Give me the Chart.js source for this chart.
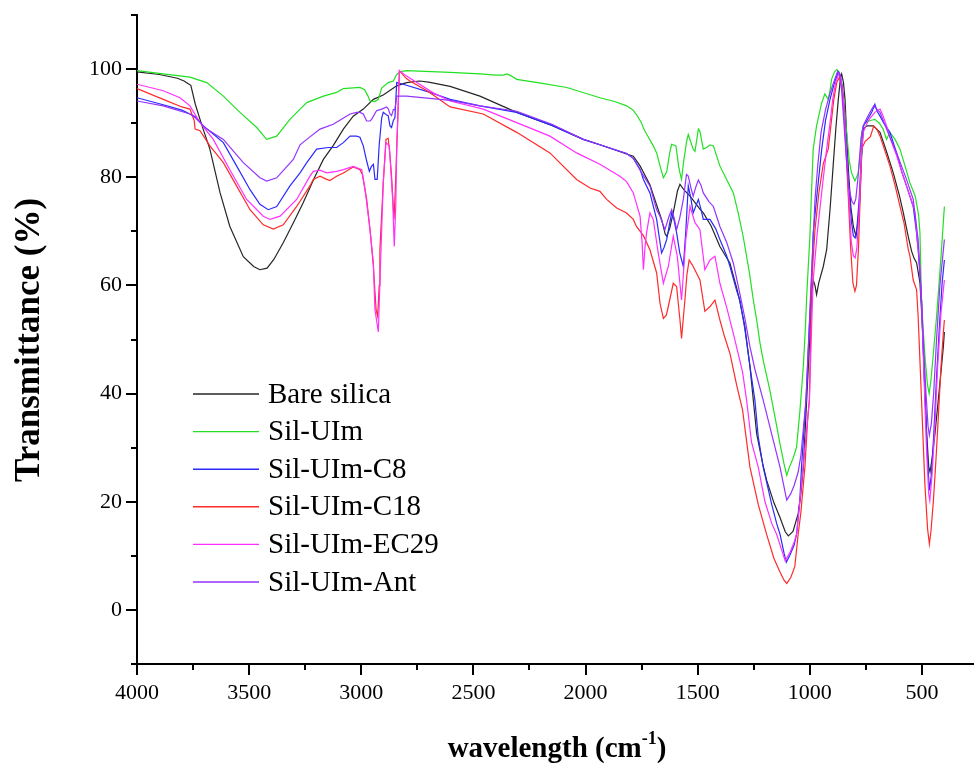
<!DOCTYPE html>
<html>
<head>
<meta charset="utf-8">
<script src="https://cdn.jsdelivr.net/npm/chart.js@4.4.1/dist/chart.umd.min.js"></script>
<style>
  html, body { margin: 0; padding: 0; background: #fff; }
  #wrap { width: 974px; height: 769px; position: relative; }
</style>
</head>
<body>
<div id="wrap"><canvas id="ftir" width="974" height="769"></canvas></div>
<script>
// ─── FTIR spectra of the modified silicas ───────────────────────────────────
// wavenumber (cm-1) / transmittance (%) pairs, one pair of arrays per sample.

const X_MIN = 268;
const X_MAX = 4000;
const Y_MIN = -10;
const Y_MAX = 110;
const X_TICKS = [500, 1000, 1500, 2000, 2500, 3000, 3500, 4000];
const X_MINOR = [750, 1250, 1750, 2250, 2750, 3250, 3750];
const Y_TICKS = [0, 20, 40, 60, 80, 100];
const Y_MINOR = [-10, 10, 30, 50, 70, 90, 110];

const SAMPLE_NAMES = ['Bare silica', 'Sil-UIm', 'Sil-UIm-C8', 'Sil-UIm-C18', 'Sil-UIm-EC29', 'Sil-UIm-Ant'];

const bareWn = [4000, 3900, 3820, 3790, 3775, 3760, 3740, 3710, 3675, 3630, 3586, 3526, 3480, 3452, 3420, 3390, 3348, 3300, 3259, 3210, 3169, 3126, 3080, 3036, 2991, 2946, 2902, 2842, 2798, 2740, 2700, 2604, 2471, 2307, 2150, 2010, 1936, 1817, 1787, 1757, 1713, 1680, 1661, 1645, 1638, 1625, 1609, 1590, 1579, 1560, 1534, 1490, 1475, 1440, 1401, 1356, 1326, 1312, 1290, 1267, 1237, 1210, 1192, 1160, 1133, 1110, 1096, 1075, 1052, 1040, 1029, 1014, 999, 992, 985, 977, 970, 960, 940, 925, 910, 896, 884, 873, 863, 858, 850, 843, 836, 829, 817, 806, 794, 785, 777, 770, 762, 745, 717, 687, 660, 628, 600, 583, 560, 546, 535, 524, 515, 509, 500, 494, 479, 470, 464, 455, 442, 420, 405, 400];
const bareT  = [99.5, 99.0, 98.3, 97.8, 97.4, 97.0, 93.5, 89.5, 85.2, 77.2, 70.9, 65.3, 63.5, 62.9, 63.2, 64.8, 67.9, 71.8, 75.3, 79.8, 83.3, 85.8, 88.9, 91.3, 92.6, 94.4, 95.2, 96.9, 97.5, 97.8, 97.6, 96.8, 95.0, 92.0, 89.6, 87.0, 86.0, 84.3, 83.9, 82.1, 78.6, 74.5, 72.2, 69.5, 69.1, 70.5, 73.4, 77.5, 78.7, 77.6, 76.5, 74.1, 73.4, 71.0, 67.2, 64.1, 59.5, 57.0, 52.5, 45.0, 32.6, 27.0, 23.9, 19.8, 17.1, 14.5, 13.7, 14.5, 17.8, 21.5, 26.4, 38.8, 51.2, 58.5, 61.0, 60.0, 58.3, 60.5, 63.5, 66.6, 74.0, 82.1, 89.0, 94.4, 98.5, 99.1, 97.5, 94.4, 88.0, 82.0, 74.5, 70.9, 69.1, 72.0, 75.9, 83.0, 88.9, 89.5, 89.5, 88.3, 85.0, 80.8, 76.5, 73.4, 68.8, 66.3, 65.0, 64.2, 62.0, 60.5, 54.0, 48.0, 32.6, 26.5, 25.5, 28.0, 32.6, 41.9, 48.5, 51.4];

const uimWn = [4000, 3883, 3764, 3689, 3615, 3541, 3466, 3422, 3377, 3318, 3273, 3243, 3169, 3110, 3080, 3006, 2985, 2970, 2961, 2940, 2924, 2909, 2880, 2857, 2842, 2827, 2798, 2604, 2471, 2400, 2367, 2350, 2330, 2307, 2200, 2084, 1936, 1870, 1817, 1790, 1773, 1750, 1742, 1728, 1698, 1683, 1668, 1653, 1638, 1625, 1616, 1597, 1585, 1579, 1572, 1564, 1550, 1542, 1520, 1512, 1497, 1490, 1475, 1460, 1445, 1430, 1401, 1371, 1341, 1320, 1297, 1270, 1252, 1237, 1222, 1208, 1178, 1150, 1133, 1115, 1103, 1090, 1075, 1059, 1044, 1029, 1020, 1014, 1005, 999, 990, 985, 970, 947, 933, 918, 910, 903, 890, 880, 870, 858, 846, 836, 824, 814, 799, 784, 775, 769, 754, 730, 710, 690, 673, 658, 643, 620, 598, 575, 554, 530, 515, 509, 502, 495, 485, 475, 468, 460, 450, 435, 420, 413, 400];
const uimT  = [99.7, 99.1, 98.5, 97.5, 95.0, 92.0, 89.2, 87.0, 87.6, 90.7, 92.6, 93.8, 95.0, 95.7, 96.4, 96.6, 96.2, 95.0, 94.1, 94.0, 94.4, 96.5, 97.5, 97.8, 99.0, 99.5, 99.7, 99.4, 99.1, 98.9, 98.9, 99.1, 98.7, 98.1, 97.4, 96.6, 94.7, 94.0, 93.2, 92.5, 91.6, 90.0, 89.1, 88.0, 85.8, 84.5, 82.1, 79.9, 81.0, 84.5, 86.1, 85.8, 82.0, 80.8, 79.6, 82.5, 86.5, 87.9, 85.2, 84.8, 88.9, 88.5, 85.2, 85.5, 86.0, 85.8, 82.1, 79.6, 77.1, 73.5, 69.0, 62.5, 57.3, 53.6, 49.3, 46.2, 40.6, 34.5, 30.7, 27.0, 24.9, 26.5, 28.0, 30.1, 36.9, 45.0, 52.0, 58.0, 65.0, 69.7, 80.0, 85.2, 89.5, 93.8, 95.4, 94.4, 96.0, 98.1, 99.5, 99.9, 99.5, 97.5, 93.0, 88.3, 83.0, 80.8, 79.3, 80.8, 84.5, 88.3, 90.1, 90.5, 90.7, 90.0, 88.9, 87.0, 88.3, 87.0, 85.2, 82.0, 79.0, 76.5, 73.0, 69.7, 57.3, 52.0, 46.0, 41.5, 40.0, 42.5, 47.0, 54.2, 62.5, 66.6, 74.6];

const c8Wn = [4000, 3883, 3800, 3764, 3740, 3704, 3660, 3615, 3556, 3496, 3452, 3415, 3377, 3318, 3273, 3243, 3199, 3147, 3110, 3080, 3050, 3021, 3006, 2991, 2976, 2964, 2955, 2946, 2939, 2929, 2920, 2909, 2902, 2887, 2880, 2872, 2865, 2857, 2850, 2842, 2813, 2694, 2604, 2471, 2307, 2150, 2010, 1936, 1817, 1787, 1757, 1742, 1713, 1683, 1661, 1650, 1638, 1625, 1616, 1605, 1594, 1580, 1564, 1553, 1542, 1530, 1520, 1497, 1485, 1475, 1445, 1420, 1401, 1371, 1356, 1326, 1312, 1290, 1260, 1245, 1230, 1208, 1170, 1148, 1133, 1115, 1105, 1090, 1070, 1059, 1045, 1037, 1025, 1017, 1005, 992, 985, 970, 947, 930, 910, 890, 873, 865, 855, 846, 836, 826, 815, 806, 798, 790, 780, 770, 762, 745, 724, 710, 700, 687, 670, 643, 613, 590, 569, 539, 525, 517, 509, 502, 495, 485, 475, 467, 458, 448, 435, 420, 410, 400];
const c8T  = [94.7, 93.4, 92.4, 91.7, 91.2, 89.5, 88.0, 86.4, 82.1, 77.7, 75.0, 74.0, 74.6, 78.4, 80.8, 82.7, 85.2, 85.5, 85.5, 86.4, 87.6, 87.6, 87.4, 85.8, 83.0, 81.1, 82.0, 82.4, 79.6, 79.6, 86.0, 91.0, 92.0, 91.5, 91.4, 89.5, 89.2, 90.5, 91.0, 97.5, 97.2, 95.7, 94.4, 93.2, 92.0, 89.6, 87.0, 86.0, 84.4, 83.5, 81.5, 79.6, 77.1, 72.2, 66.0, 67.0, 68.5, 71.5, 73.4, 72.0, 69.7, 66.0, 63.5, 70.0, 78.4, 76.0, 73.4, 75.9, 74.0, 72.2, 72.2, 70.5, 68.5, 65.5, 63.5, 59.0, 57.3, 52.0, 43.0, 38.8, 32.0, 26.4, 19.5, 16.0, 14.0, 10.5, 8.8, 10.0, 12.0, 14.0, 20.0, 26.4, 34.0, 38.8, 50.0, 61.0, 69.7, 76.0, 85.2, 90.5, 94.4, 97.5, 99.5, 99.0, 96.5, 92.0, 86.0, 78.0, 72.0, 69.2, 68.8, 70.5, 76.0, 84.0, 89.5, 90.5, 92.0, 93.5, 92.2, 91.3, 90.0, 88.3, 84.5, 81.0, 78.4, 74.6, 70.0, 66.6, 62.0, 57.3, 49.0, 38.0, 28.0, 22.1, 25.0, 32.0, 43.0, 54.0, 60.5, 64.7];

const c18Wn = [4000, 3883, 3800, 3764, 3745, 3741, 3719, 3675, 3615, 3556, 3496, 3437, 3392, 3348, 3288, 3229, 3214, 3184, 3154, 3140, 3110, 3080, 3036, 3006, 2995, 2976, 2961, 2946, 2934, 2927, 2920, 2917, 2902, 2890, 2880, 2872, 2865, 2854, 2848, 2842, 2830, 2800, 2783, 2700, 2604, 2456, 2307, 2159, 2040, 1980, 1936, 1906, 1861, 1817, 1787, 1773, 1742, 1713, 1683, 1668, 1653, 1640, 1631, 1609, 1594, 1579, 1572, 1557, 1548, 1538, 1520, 1490, 1468, 1445, 1423, 1401, 1380, 1356, 1326, 1300, 1267, 1230, 1193, 1160, 1133, 1115, 1103, 1085, 1067, 1052, 1040, 1022, 1010, 1002, 992, 977, 960, 940, 918, 893, 880, 868, 858, 850, 840, 828, 818, 808, 799, 792, 783, 775, 769, 754, 730, 715, 700, 687, 643, 620, 598, 580, 561, 554, 539, 524, 517, 502, 487, 475, 467, 460, 449, 438, 427, 415, 405, 400];
const c18T  = [96.4, 94.4, 93.0, 92.6, 90.5, 88.9, 88.6, 85.8, 82.7, 78.4, 74.0, 71.2, 70.4, 71.2, 74.6, 78.4, 79.6, 80.2, 79.6, 79.4, 80.2, 80.8, 81.9, 81.4, 80.5, 75.9, 70.3, 63.5, 55.5, 54.3, 60.0, 66.6, 79.0, 87.0, 87.2, 84.0, 80.2, 72.2, 78.0, 85.2, 99.7, 98.3, 97.8, 95.8, 93.0, 91.7, 88.3, 84.5, 79.6, 78.0, 77.4, 75.9, 74.3, 73.4, 72.2, 70.9, 69.2, 66.6, 62.3, 56.7, 53.9, 54.5, 56.1, 60.4, 59.8, 53.6, 50.2, 57.3, 62.0, 64.7, 63.5, 61.0, 55.2, 56.1, 57.3, 53.6, 50.5, 47.4, 41.5, 37.0, 26.4, 19.5, 14.0, 9.5, 7.0, 5.5, 4.9, 6.0, 8.0, 14.0, 18.0, 26.4, 35.0, 38.8, 60.4, 70.3, 77.0, 82.5, 85.2, 94.4, 97.5, 98.5, 97.0, 94.0, 86.0, 76.0, 67.0, 60.5, 58.9, 60.0, 67.0, 77.0, 85.2, 86.6, 87.5, 89.5, 88.8, 87.6, 82.1, 78.5, 74.6, 71.5, 66.6, 65.5, 61.0, 59.2, 54.2, 38.8, 23.3, 15.0, 12.2, 14.5, 20.2, 27.5, 35.7, 45.0, 51.1, 53.6];

const ec29Wn = [4000, 3883, 3808, 3764, 3719, 3660, 3586, 3511, 3437, 3407, 3362, 3288, 3229, 3214, 3184, 3154, 3110, 3080, 3036, 2998, 2983, 2961, 2946, 2939, 2924, 2917, 2902, 2890, 2875, 2860, 2853, 2846, 2842, 2830, 2798, 2679, 2604, 2456, 2307, 2159, 2040, 1936, 1847, 1817, 1787, 1757, 1748, 1742, 1735, 1728, 1713, 1698, 1676, 1653, 1631, 1609, 1591, 1572, 1553, 1534, 1512, 1490, 1468, 1445, 1423, 1401, 1371, 1341, 1300, 1282, 1260, 1230, 1200, 1170, 1148, 1125, 1110, 1090, 1070, 1059, 1045, 1030, 1015, 1002, 990, 985, 967, 945, 925, 910, 898, 885, 870, 860, 850, 840, 828, 815, 806, 798, 790, 780, 770, 762, 745, 730, 710, 687, 675, 658, 640, 613, 590, 569, 545, 531, 520, 509, 500, 490, 480, 470, 465, 455, 445, 430, 415, 400];
const ec29T  = [97.2, 96.0, 94.7, 93.2, 90.1, 87.0, 81.4, 75.9, 72.8, 72.2, 72.8, 75.9, 80.2, 81.1, 81.3, 80.8, 81.1, 81.4, 82.0, 81.4, 77.7, 70.3, 64.1, 55.5, 51.4, 60.4, 79.0, 86.4, 85.8, 75.9, 67.2, 75.0, 85.2, 99.7, 98.7, 95.6, 94.1, 92.6, 90.1, 87.6, 84.5, 82.4, 80.2, 79.2, 77.1, 72.8, 68.0, 62.9, 67.0, 69.7, 73.4, 72.2, 66.0, 60.4, 63.5, 69.1, 65.4, 57.3, 68.5, 74.6, 71.6, 70.3, 62.9, 64.7, 65.4, 60.4, 56.0, 51.1, 44.0, 38.8, 31.0, 26.4, 20.0, 16.0, 14.0, 11.0, 9.1, 10.5, 12.5, 14.0, 20.0, 26.4, 33.0, 38.8, 55.0, 61.0, 69.7, 78.0, 85.2, 90.0, 94.4, 97.5, 99.2, 98.0, 94.0, 87.0, 78.0, 68.0, 65.5, 65.1, 67.0, 74.0, 84.0, 88.3, 90.0, 91.0, 92.0, 92.6, 91.5, 89.5, 87.0, 84.0, 81.0, 78.4, 75.5, 73.4, 68.0, 63.5, 55.0, 42.0, 30.0, 21.5, 20.2, 25.0, 32.0, 45.0, 55.0, 61.0];

const antWn = [4000, 3883, 3764, 3740, 3689, 3615, 3526, 3452, 3422, 3377, 3303, 3273, 3243, 3184, 3125, 3050, 3021, 3006, 2991, 2976, 2961, 2954, 2932, 2909, 2887, 2879, 2872, 2865, 2857, 2850, 2842, 2798, 2604, 2471, 2307, 2150, 2010, 1936, 1817, 1787, 1750, 1713, 1683, 1668, 1646, 1630, 1616, 1605, 1594, 1580, 1564, 1550, 1542, 1530, 1520, 1510, 1497, 1485, 1475, 1450, 1430, 1401, 1371, 1341, 1312, 1290, 1267, 1245, 1208, 1170, 1133, 1103, 1085, 1070, 1052, 1040, 1030, 1017, 1005, 995, 985, 977, 965, 950, 930, 910, 890, 876, 868, 858, 848, 838, 826, 812, 803, 795, 785, 772, 762, 745, 725, 715, 700, 687, 658, 613, 569, 539, 517, 502, 492, 482, 473, 467, 458, 448, 435, 420, 400];
const antT  = [94.1, 93.2, 91.7, 91.0, 88.9, 87.0, 82.7, 79.9, 79.3, 79.9, 83.3, 86.0, 87.0, 88.9, 89.8, 91.7, 92.0, 92.0, 91.7, 90.4, 90.4, 90.7, 92.3, 92.6, 93.0, 92.6, 91.7, 91.4, 92.5, 92.5, 95.0, 95.0, 94.2, 93.2, 92.2, 89.8, 87.0, 86.0, 84.4, 83.5, 80.8, 78.4, 74.0, 72.8, 70.3, 72.5, 74.0, 72.5, 70.3, 72.5, 75.9, 80.5, 80.2, 78.0, 76.5, 78.0, 79.5, 78.5, 77.1, 75.5, 74.6, 70.9, 68.0, 64.1, 58.5, 54.0, 48.7, 44.5, 38.8, 32.5, 26.4, 20.3, 21.5, 23.0, 25.5, 28.5, 33.0, 38.8, 50.0, 60.0, 68.5, 75.9, 82.0, 88.3, 92.5, 95.5, 98.0, 99.6, 99.2, 96.0, 90.0, 84.0, 78.0, 75.5, 75.0, 76.0, 80.0, 87.0, 89.5, 91.0, 92.5, 93.2, 92.5, 92.0, 88.9, 84.5, 79.6, 75.9, 68.5, 57.3, 48.0, 40.0, 34.0, 32.3, 34.5, 40.0, 50.0, 60.0, 68.5];

const SERIES_WN = [bareWn, uimWn, c8Wn, c18Wn, ec29Wn, antWn];
const SERIES_T  = [bareT, uimT, c8T, c18T, ec29T, antT];
const SERIES_COLORS = ['#262626', '#22e022', '#2a2aff', '#ff2a2a', '#ff30ff', '#9433ff'];

// ─── Style ─────────────────────────────────────────────────────────────────
const SERIF = '"Liberation Serif", "Times New Roman", serif';
const MAJOR_LEN = 11;
const MINOR_LEN = 6;

function toPoints(wn, t) {
  return wn.map((w, i) => ({ x: w, y: t[i] }));
}

// Ticks, axis titles and legend drawn on top of the Chart.js scales.
const decorPlugin = {
  id: 'decor',
  afterDraw(chart) {
    const { ctx, chartArea: a, scales: { x, y } } = chart;
    ctx.save();
    ctx.strokeStyle = '#000';
    ctx.lineWidth = 2;
    ctx.beginPath();
    X_TICKS.forEach((v) => {
      const px = Math.round(x.getPixelForValue(v));
      ctx.moveTo(px, a.bottom); ctx.lineTo(px, a.bottom + MAJOR_LEN);
    });
    X_MINOR.forEach((v) => {
      const px = Math.round(x.getPixelForValue(v));
      ctx.moveTo(px, a.bottom); ctx.lineTo(px, a.bottom + MINOR_LEN);
    });
    Y_TICKS.forEach((v) => {
      const py = Math.round(y.getPixelForValue(v));
      ctx.moveTo(a.left, py); ctx.lineTo(a.left - MAJOR_LEN, py);
    });
    Y_MINOR.forEach((v) => {
      const py = Math.round(y.getPixelForValue(v));
      ctx.moveTo(a.left, py); ctx.lineTo(a.left - MINOR_LEN, py);
    });
    ctx.stroke();

    // x title with superscript
    ctx.fillStyle = '#000';
    ctx.textBaseline = 'alphabetic';
    const main = 'wavelength (cm';
    const sup = '-1';
    const tail = ')';
    ctx.font = `bold 29px ${SERIF}`;
    const wMain = ctx.measureText(main).width;
    const wTail = ctx.measureText(tail).width;
    ctx.font = `bold 18px ${SERIF}`;
    const wSup = ctx.measureText(sup).width;
    const total = wMain + wSup + wTail;
    let tx = 557 - total / 2;
    const base = 757;
    ctx.font = `bold 29px ${SERIF}`;
    ctx.textAlign = 'left';
    ctx.fillText(main, tx, base);
    tx += wMain;
    ctx.font = `bold 18px ${SERIF}`;
    ctx.fillText(sup, tx, base - 13);
    tx += wSup;
    ctx.font = `bold 29px ${SERIF}`;
    ctx.fillText(tail, tx, base);

    // y title
    ctx.save();
    ctx.translate(30, 340);
    ctx.rotate(-Math.PI / 2);
    ctx.textAlign = 'center';
    ctx.textBaseline = 'middle';
    ctx.font = `bold 35px ${SERIF}`;
    ctx.fillText('Transmittance (%)', 0, 0);
    ctx.restore();

    // legend inside the plot
    ctx.font = `29px ${SERIF}`;
    ctx.textAlign = 'left';
    ctx.textBaseline = 'middle';
    chart.data.datasets.forEach((ds, i) => {
      const ly = 394 + i * 37.6;
      ctx.strokeStyle = ds.borderColor;
      ctx.lineWidth = 1.4;
      ctx.beginPath();
      ctx.moveTo(193, ly); ctx.lineTo(259, ly);
      ctx.stroke();
      ctx.fillStyle = '#000';
      ctx.fillText(ds.label, 268, ly + 1);
    });
    ctx.restore();
  },
};

const datasets = SAMPLE_NAMES.map((name, i) => ({
  label: name,
  data: toPoints(SERIES_WN[i], SERIES_T[i]),
  borderColor: SERIES_COLORS[i],
  borderWidth: 1.2,
  pointRadius: 0,
  tension: 0,
  fill: false,
  order: SAMPLE_NAMES.length - i,
}));

new Chart(document.getElementById('ftir'), {
  type: 'line',
  data: { datasets },
  options: {
    responsive: false,
    animation: false,
    events: [],
    layout: { padding: { top: 15, right: 0, bottom: 0, left: 0 } },
    plugins: { legend: { display: false }, tooltip: { enabled: false } },
    scales: {
      x: {
        type: 'linear',
        reverse: true,
        min: X_MIN,
        max: X_MAX,
        afterBuildTicks: (s) => { s.ticks = X_TICKS.map((v) => ({ value: v })); },
        afterFit: (s) => { s.height = 105; s.paddingLeft = 0; s.paddingRight = 0; },
        grid: { display: false },
        border: { display: true, color: '#000', width: 2 },
        ticks: {
          color: '#000',
          font: { family: SERIF, size: 22 },
          padding: 8,
          maxRotation: 0,
          autoSkip: false,
          callback: (v) => String(v),
        },
      },
      y: {
        min: Y_MIN,
        max: Y_MAX,
        afterBuildTicks: (s) => { s.ticks = Y_TICKS.map((v) => ({ value: v })); },
        afterFit: (s) => { s.width = 137; s.paddingTop = 0; s.paddingBottom = 0; },
        grid: { display: false },
        border: { display: true, color: '#000', width: 2 },
        ticks: {
          color: '#000',
          font: { family: SERIF, size: 22 },
          padding: 7,
          callback: (v) => String(v),
        },
      },
    },
  },
  plugins: [decorPlugin],
});
</script>
</body>
</html>
